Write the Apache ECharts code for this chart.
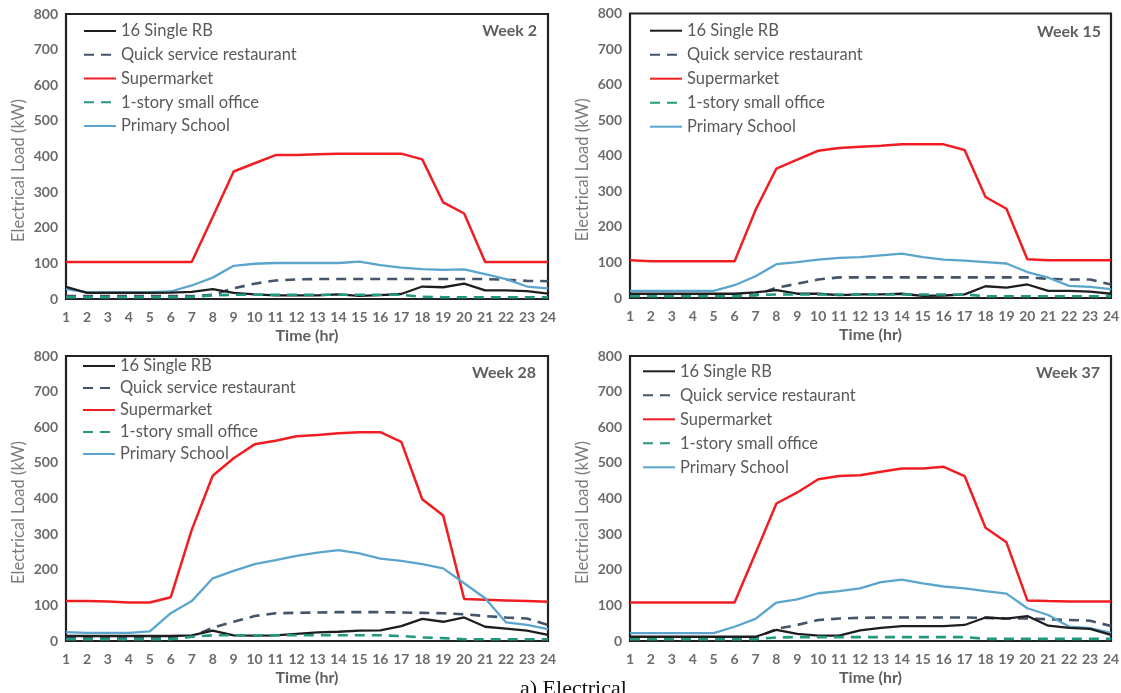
<!DOCTYPE html>
<html><head><meta charset="utf-8">
<script src="https://cdn.jsdelivr.net/npm/echarts@6/dist/echarts.min.js"></script>
<style>html,body{margin:0;padding:0;background:#fff}#c{width:1121px;height:693px}</style>
</head><body><div id="c"></div>
<script>
// ---- data ----
const hours = ['1','2','3','4','5','6','7','8','9','10','11','12','13','14','15','16','17','18','19','20','21','22','23','24'];
const seriesNames = ['16 Single RB','Quick service restaurant','Supermarket','1-story small office','Primary School'];
const weekLabels = ['Week 2','Week 15','Week 28','Week 37'];
const yTicks = [0,100,200,300,400,500,600,700,800];

const rb2  = [34,17,17,17,17,18,20,28,17,13,10,10,10,13,9,11,14,35,33,43,24,24,22,15];
const qsr2 = [8,8,8,8,8,8,8,12,30,43,52,55,56,56,56,56,56,56,56,56,56,54,51,50];
const sup2 = [104,104,104,104,104,104,104,230,358,381,404,404,406,408,408,408,408,392,271,240,104,104,104,104];
const off2 = [5,5,5,5,5,5,6,10,12,12,12,12,12,12,12,12,12,6,5,5,5,5,5,5];
const sch2 = [28,19,19,19,19,21,38,60,93,99,101,101,101,101,105,95,88,84,82,83,70,56,35,30];

const rb15  = [12,12,12,12,12,12,16,22,12,12,8,10,10,12,6,7,10,33,29,38,20,20,18,12];
const qsr15 = [8,8,8,8,8,8,8,29,40,52,58,58,58,58,58,58,58,58,58,58,54,52,52,38];
const sup15 = [106,103,103,103,103,103,247,364,389,414,422,425,428,432,432,432,416,284,251,109,106,106,106,106];
const off15 = [5,5,5,5,5,5,8,10,10,10,10,10,10,10,10,10,10,5,5,5,5,5,5,5];
const sch15 = [20,20,20,20,20,36,61,95,101,108,113,115,120,125,115,108,105,101,97,73,57,34,31,25];

const rb28  = [14,14,14,14,14,14,16,29,16,15,16,20,24,26,29,30,42,62,54,66,40,35,29,17];
const qsr28 = [8,8,8,8,8,8,12,37,54,70,78,79,80,81,81,81,80,79,78,75,70,66,63,45];
const sup28 = [112,112,111,108,108,123,312,464,513,552,562,575,578,583,586,586,559,398,352,118,116,114,112,110];
const off28 = [5,5,5,5,5,5,12,16,16,16,16,16,16,16,16,16,14,10,8,5,5,5,5,5];
const sch28 = [25,23,23,23,27,78,112,176,197,216,227,239,248,255,246,231,225,216,204,162,120,52,45,33];

const rb37  = [12,12,12,12,12,12,12,31,20,15,15,30,37,42,42,42,45,66,63,70,43,37,34,17];
const qsr37 = [8,8,8,8,8,8,8,34,45,59,63,65,66,66,66,66,66,65,63,63,61,59,57,42];
const sup37 = [108,108,108,108,108,108,246,386,417,454,463,465,475,484,484,489,463,318,277,114,112,111,111,111];
const off37 = [5,5,5,5,5,5,5,10,11,11,11,11,11,11,11,11,11,6,6,6,6,6,6,6];
const sch37 = [22,22,22,22,22,40,62,108,117,134,140,148,165,172,162,153,148,140,133,92,73,40,36,23];

const panelData = [
  [rb2, qsr2, sup2, off2, sch2],
  [rb15, qsr15, sup15, off15, sch15],
  [rb28, qsr28, sup28, off28, sch28],
  [rb37, qsr37, sup37, off37, sch37]
];

// ---- layout / style ----
const FONT = 'Lato';
const seriesStyles = [
  {color:'#1e1e1e', type:'solid', width:2.3},
  {color:'#44546a', type:[10,7], width:2.6},
  {color:'#f01e23', type:'solid', width:2.5},
  {color:'#23997f', type:[10,7], width:2.6},
  {color:'#5ba5cc', type:'solid', width:2.3}
];
const layout = [
  {grid:{left:66, top:14, width:482, height:285}, legend:{left:83, top:22, gap:5.75}, week:{x:537, y:31}},
  {grid:{left:630, top:13.5, width:481, height:284.5}, legend:{left:649, top:21.7, gap:6}, week:{x:1101, y:32}},
  {grid:{left:66, top:356, width:482, height:285}, legend:{left:82, top:357, gap:4}, week:{x:536, y:373}},
  {grid:{left:630, top:356, width:481, height:285}, legend:{left:642, top:362.3, gap:6}, week:{x:1100, y:373}}
];

const grids = [], xAxes = [], yAxes = [], legends = [], series = [], graphics = [];
layout.forEach((L, i) => {
  grids.push(Object.assign({show:true, borderColor:'#222', borderWidth:2.2, backgroundColor:'transparent', outerBoundsMode:'none', containLabel:false}, L.grid));
  xAxes.push({
    type:'category', gridIndex:i, data:hours, boundaryGap:false,
    axisLine:{show:false}, axisTick:{show:false}, splitLine:{show:false},
    axisLabel:{interval:0, margin:11, fontFamily:FONT, fontSize:14, fontWeight:'bold', color:'#6b6b6b'},
    name:'Time (hr)', nameLocation:'middle', nameGap:29,
    nameTextStyle:{fontFamily:FONT, fontSize:16, fontWeight:'bold', color:'#5f5f5f'}
  });
  yAxes.push({
    type:'value', gridIndex:i, min:yTicks[0], max:yTicks[yTicks.length-1], interval:yTicks[1]-yTicks[0],
    axisLine:{show:false}, axisTick:{show:false}, splitLine:{show:false},
    axisLabel:{margin:8, fontFamily:FONT, fontSize:14, fontWeight:'bold', color:'#6b6b6b'},
    name:'Electrical Load (kW)', nameLocation:'middle', nameGap:39,
    nameTextStyle:{fontFamily:FONT, fontSize:16.5, color:'#7f7a76', padding:[0,28,0,0]}
  });
  legends.push({
    orient:'vertical', left:L.legend.left, top:L.legend.top, itemGap:L.legend.gap,
    itemWidth:32, itemHeight:12, padding:0, selectedMode:false,
    data:seriesNames,
    itemStyle:{opacity:0},
    textStyle:{fontFamily:FONT, fontSize:16.5, color:'#5a5a5a', lineHeight:18}
  });
  seriesNames.forEach((nm, j) => {
    const st = seriesStyles[j];
    series.push({
      type:'line', name:nm, xAxisIndex:i, yAxisIndex:i, data:panelData[i][j],
      symbol:'none', showSymbol:false, smooth:false, animation:false,
      color:st.color,
      itemStyle:{color:st.color},
      lineStyle:{color:st.color, width:st.width, type:st.type},
      z: 2 + (j===3 ? 3 : j===0 ? 2 : 0)
    });
  });
  graphics.push({
    type:'text', x:L.week.x, y:L.week.y, z:10,
    style:{text:weekLabels[i], font:'bold 16px ' + FONT, fill:'#5f5f5f', align:'right', verticalAlign:'middle'}
  });
});
graphics.push({
  type:'text', x:520, y:678, z:10,
  style:{text:'a) Electrical', font:'22px "Liberation Serif"', fill:'#111', align:'left', verticalAlign:'top'}
});

const chart = echarts.init(document.getElementById('c'), null, {renderer:'canvas'});
chart.setOption({
  animation:false,
  backgroundColor:'#fff',
  textStyle:{fontFamily:FONT},
  grid:grids, xAxis:xAxes, yAxis:yAxes, legend:legends, series:series, graphic:graphics
});
</script></body></html>
